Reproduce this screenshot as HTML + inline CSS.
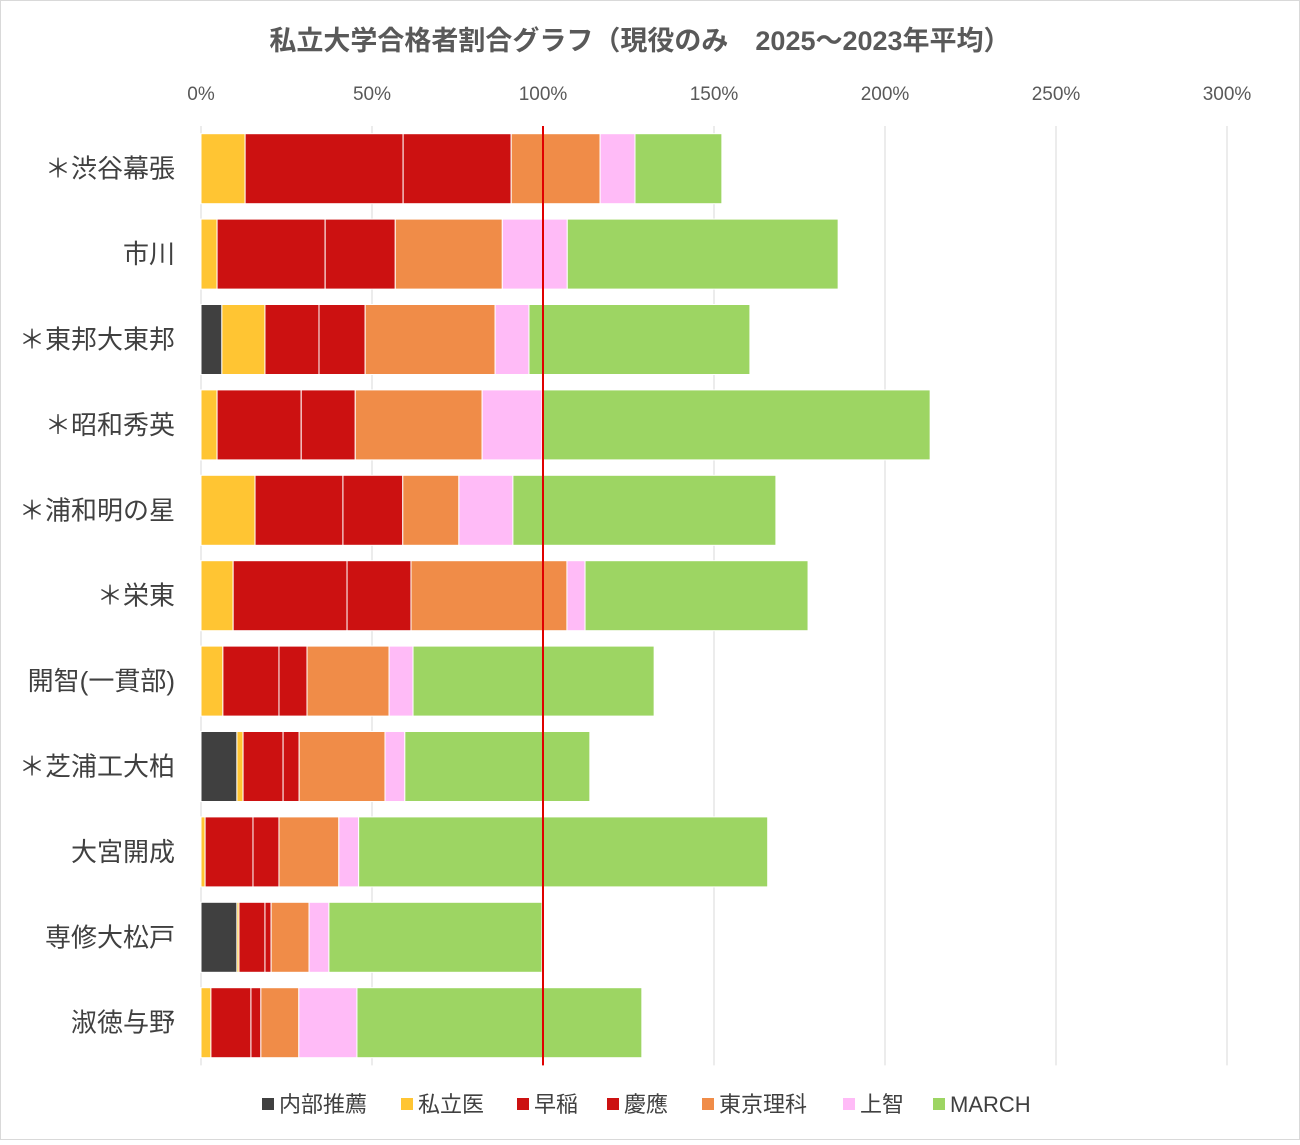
<!DOCTYPE html>
<html><head><meta charset="utf-8">
<style>
body{margin:0;background:#fff;}
svg text{font-family:"Liberation Sans","Noto Sans CJK JP",sans-serif;}
</style></head>
<body>
<svg id="chart" width="1300" height="1140" xmlns="http://www.w3.org/2000/svg">
<rect x="0.5" y="0.5" width="1299" height="1139" fill="#fff" stroke="#d9d9d9"/>
<text x="640" y="50" text-anchor="middle" font-size="27" font-weight="bold" fill="#595959">私立大学合格者割合グラフ（現役のみ　2025～2023年平均）</text>
<g id="grid"></g><g id="bars"></g><g id="labels"></g><g id="legend"></g>
</svg>
<script>
const categories=["＊渋谷幕張","市川","＊東邦大東邦","＊昭和秀英","＊浦和明の星","＊栄東","開智(一貫部)","＊芝浦工大柏","大宮開成","専修大松戸","淑徳与野"];
const seriesNames=["内部推薦","私立医","早稲","慶應","東京理科","上智","MARCH"];
const naibu=[0,0,6.1,0,0,0,0,10.5,0,10.5,0];
const ishi=[12.9,4.7,12.6,4.7,15.8,9.4,6.4,1.8,1.2,0.6,2.9];
const waseda=[46.2,31.6,15.8,24.6,25.7,33.3,16.4,11.7,14,7.6,11.7];
const keio=[31.6,20.5,13.5,15.8,17.5,18.7,8.2,4.7,7.6,1.8,2.9];
const rika=[26,31.3,38,37.1,16.4,45.6,24,25.1,17.5,11.1,11.1];
const jochi=[10.2,19,9.9,17.5,15.8,5.3,7,5.8,5.8,5.8,17];
const march=[25.4,79.2,64.6,113.5,76.9,65.2,70.5,54.1,119.6,62.3,83.3];
const tickLabels=["0%","50%","100%","150%","200%","250%","300%"];
const tickValues=[0,50,100,150,200,250,300];
const series=[naibu,ishi,waseda,keio,rika,jochi,march];
const colors=["#404040","#FFC533","#CC1111","#CC1111","#F08C48","#FFBBF7","#9DD563"];
const NS="http://www.w3.org/2000/svg";
const x0=201,pxPer=3.42,yTop=126,rowH=85.4,barH=70;
const X=v=>x0+v*pxPer;
const Y=i=>yTop+i*rowH+(rowH-barH)/2;
function mk(tag,attrs,parent){const e=document.createElementNS(NS,tag);for(const k in attrs)e.setAttribute(k,attrs[k]);parent.appendChild(e);return e;}
const grid=document.getElementById('grid'),bars=document.getElementById('bars'),labels=document.getElementById('labels'),legend=document.getElementById('legend');
tickValues.forEach((v,i)=>{
 const l=mk('line',{x1:X(v),x2:X(v),y1:yTop,y2:yTop+rowH*categories.length,stroke:'#d9d9d9','stroke-width':1},grid);
 
 
 const t=mk('text',{x:X(v),y:100,'text-anchor':'middle','font-size':19,fill:'#595959'},grid);
 t.textContent=tickLabels[i];
 
 
});
categories.forEach((c,i)=>{
 let acc=0;
 series.forEach((s,j)=>{
  const v=s[i];
  if(v>0){
   const r=mk('rect',{x:X(acc),y:Y(i),width:v*pxPer,height:barH,fill:colors[j],stroke:'#fff','stroke-width':1},bars);
   
   
  }
  acc+=v;
 });
 const t=mk('text',{x:175,y:Y(i)+barH/2+9,'text-anchor':'end','font-size':26,fill:'#404040'},labels);
 t.textContent=c;
 
 
});
const ref=mk('line',{x1:X(100),x2:X(100),y1:yTop,y2:yTop+rowH*categories.length,stroke:'#e00000','stroke-width':2},bars);


const lx=[262,401,517,607,702,843,933];
seriesNames.forEach((n,j)=>{
 const g=mk('g',{},legend);
 
 
 mk('rect',{x:lx[j],y:1098,width:12,height:12,fill:colors[j]},g);
 const t=mk('text',{x:lx[j]+17,y:1112,'font-size':22,fill:'#404040'},g);
 t.textContent=n;
});
</script>
</body></html>
